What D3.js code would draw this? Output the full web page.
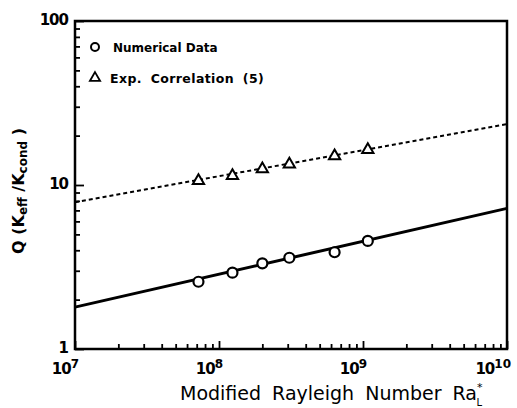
<!DOCTYPE html>
<html>
<head>
<meta charset="utf-8">
<script src="https://cdn.jsdelivr.net/npm/d3@7"></script>
<style>
  html, body { margin: 0; padding: 0; background: #fff; }
  svg { display: block; }
  text { font-family: "DejaVu Sans", "Liberation Sans", sans-serif; fill: #000; }
</style>
</head>
<body>
<svg id="chart" width="517" height="408"></svg>
<script>
// Modified Rayleigh number (x) for each computed case
const rayleigh = [7.2e7, 1.24e8, 2.0e8, 3.08e8, 6.35e8, 1.08e9];
// Nusselt-type ratio Q from the numerical solution
const numericalQ = [2.57, 2.92, 3.33, 3.60, 3.89, 4.56];
// Q from the experimental correlation (5) at the same Rayleigh numbers
const correlationQ = [10.6, 11.4, 12.5, 13.4, 15.0, 16.4];
// Fitted power-law lines (end points over the plotted range)
const fitNumerical = [[1e7, 1.80], [1e10, 7.2]];
const fitCorrelation = [[1e7, 7.85], [1e10, 23.5]];
// Axis tick labels
const xTickExps = [7, 8, 9, 10];
const yTickLabels = ["1", "10", "100"];

const svg = d3.select("#chart");
const plotLeft = 75, plotRight = 507, plotTop = 21, plotBottom = 349;

const x = d3.scaleLog().domain([1e7, 1e10]).range([plotLeft, plotRight]);
const y = d3.scaleLog().domain([1, 100]).range([plotBottom, plotTop]);

const isDecade = d => Math.abs(Math.log10(d) - Math.round(Math.log10(d))) < 1e-9;

// Frame
svg.append("rect")
  .attr("x", plotLeft).attr("y", plotTop)
  .attr("width", plotRight - plotLeft).attr("height", plotBottom - plotTop)
  .attr("fill", "none").attr("stroke", "#000").attr("stroke-width", 2.5);

// Bottom axis: inward ticks, labels drawn separately as powers of ten
const xAxis = d3.axisBottom(x)
  .tickValues(d3.range(7, 10).flatMap(e => d3.range(1, 10).map(m => m * Math.pow(10, e))).concat([1e10]))
  .tickSize(-5).tickFormat("");
const gx = svg.append("g").attr("transform", `translate(0,${plotBottom})`).call(xAxis);
gx.select(".domain").remove();
gx.selectAll(".tick line")
  .attr("stroke-width", 1.8)
  .attr("y2", d => isDecade(d) ? -8 : -5);

// Left axis: inward ticks
const yAxis = d3.axisLeft(y)
  .tickValues(d3.range(0, 2).flatMap(e => d3.range(1, 10).map(m => m * Math.pow(10, e))).concat([100]))
  .tickSize(-5).tickFormat("");
const gy = svg.append("g").attr("transform", `translate(${plotLeft},0)`).call(yAxis);
gy.select(".domain").remove();
gy.selectAll(".tick line")
  .attr("stroke-width", 1.8)
  .attr("x2", d => isDecade(d) ? 9 : 5);

// Y tick labels
svg.append("g").selectAll("text").data(yTickLabels).join("text")
  .attr("x", plotLeft - 7).attr("y", d => y(+d) + 4)
  .attr("text-anchor", "end")
  .attr("font-size", 15).attr("font-weight", "bold")
  .attr("letter-spacing", -1)
  .text(d => d);

// X tick labels: 10 with superscript exponent
const xl = svg.append("g").selectAll("text").data(xTickExps).join("text")
  .attr("x", d => x(Math.pow(10, d)) + 4).attr("y", 374)
  .attr("text-anchor", "end")
  .attr("font-size", 15).attr("font-weight", "bold");
xl.append("tspan").attr("letter-spacing", -1).text("10");
xl.append("tspan").attr("dy", -6).attr("font-size", 12).text(d => d);

// Fit lines
const line = d3.line().x(d => x(d[0])).y(d => y(d[1]));
svg.append("path").datum(fitNumerical).attr("d", line)
  .attr("fill", "none").attr("stroke", "#000").attr("stroke-width", 3);
svg.append("path").datum(fitCorrelation).attr("d", line)
  .attr("fill", "none").attr("stroke", "#000").attr("stroke-width", 2)
  .attr("stroke-dasharray", "4,3");

// Markers
const triangle = d3.symbol().type(d3.symbolTriangle).size(55);
svg.append("g").selectAll("circle").data(rayleigh).join("circle")
  .attr("cx", d => x(d)).attr("cy", (d, i) => y(numericalQ[i]))
  .attr("r", 5).attr("fill", "#fff").attr("stroke", "#000").attr("stroke-width", 2.2);
svg.append("g").selectAll("path").data(rayleigh).join("path")
  .attr("d", triangle)
  .attr("transform", (d, i) => `translate(${x(d)},${y(correlationQ[i])})`)
  .attr("fill", "#fff").attr("stroke", "#000").attr("stroke-width", 2);

// Legend
svg.append("circle").attr("cx", 95).attr("cy", 47).attr("r", 4)
  .attr("fill", "#fff").attr("stroke", "#000").attr("stroke-width", 2);
svg.append("text").attr("x", 113).attr("y", 52)
  .attr("font-size", 12).attr("font-weight", "bold").text("Numerical Data");
svg.append("path").attr("d", d3.symbol().type(d3.symbolTriangle).size(45)())
  .attr("transform", "translate(95,78)")
  .attr("fill", "#fff").attr("stroke", "#000").attr("stroke-width", 1.8);
svg.append("text").attr("x", 110).attr("y", 83)
  .attr("font-size", 12.5).attr("font-weight", "bold")
  .attr("letter-spacing", 0.4).attr("word-spacing", 4)
  .text("Exp. Correlation (5)");

// Y axis title
const yt = svg.append("text")
  .attr("transform", "translate(24,191) rotate(-90)")
  .attr("text-anchor", "middle")
  .attr("font-size", 16).attr("font-weight", "bold");
yt.append("tspan").text("Q (K");
yt.append("tspan").attr("font-size", 12).attr("dy", 3).text("eff");
yt.append("tspan").attr("dy", -3).text(" /K");
yt.append("tspan").attr("font-size", 12).attr("dy", 3).text("cond");
yt.append("tspan").attr("dy", -3).text(" )");

// X axis title, with stacked superscript * and subscript L on Ra
const xt = svg.append("text")
  .attr("x", 180).attr("y", 400)
  .attr("font-size", 19).attr("word-spacing", 5);
xt.append("tspan").text("Modified Rayleigh Number Ra");
xt.append("tspan").attr("font-size", 11).attr("dy", -9).text("*");
xt.append("tspan").attr("font-size", 10).attr("dx", -6).attr("dy", 15).text("L");
</script>
</body>
</html>
